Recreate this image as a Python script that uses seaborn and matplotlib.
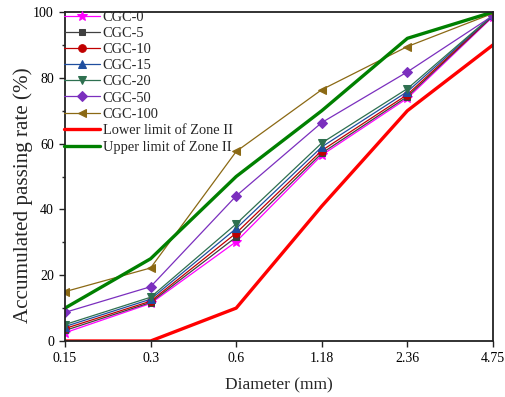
import matplotlib
matplotlib.use("Agg")
import matplotlib.pyplot as plt
import seaborn as sns
import pandas as pd
from matplotlib.ticker import MultipleLocator

sizes = ["0.15", "0.3", "0.6", "1.18", "2.36", "4.75"]
cgc_0 = [2.5, 11.4, 30.2, 56.5, 73.8, 98.6]
cgc_5 = [3.2, 11.7, 31.6, 57.1, 74.3, 98.8]
cgc_10 = [3.8, 12.1, 32.8, 57.9, 74.9, 98.9]
cgc_15 = [4.4, 12.7, 34.2, 59.0, 75.8, 99.0]
cgc_20 = [5.0, 13.3, 35.6, 60.2, 76.7, 99.1]
cgc_50 = [8.7, 16.5, 44.1, 66.4, 81.8, 98.9]
cgc_100 = [15.0, 22.2, 57.6, 76.4, 89.5, 99.6]
lower_zone2 = [0, 0, 10, 41, 70, 90]
upper_zone2 = [10, 25, 50, 70, 92, 100]

series = [
    ("CGC-0", cgc_0, "#FF00FF", "*", 7.5),
    ("CGC-5", cgc_5, "#404040", "s", 5),
    ("CGC-10", cgc_10, "#C00000", "o", 5.5),
    ("CGC-15", cgc_15, "#1F4E9F", "^", 6),
    ("CGC-20", cgc_20, "#2E7050", "v", 6),
    ("CGC-50", cgc_50, "#7B2FBE", "D", 5),
    ("CGC-100", cgc_100, "#8B6914", "<", 6),
]

sns.set_theme(style="ticks")
plt.rcParams["font.family"] = ["Liberation Serif", "DejaVu Serif"]

fig = plt.figure(figsize=(5.05, 3.97), dpi=100)
ax = fig.add_axes([65/505, 56/397, 428/505, 329/397])

for name, vals, col, mk, ms in series:
    df = pd.DataFrame({"d": sizes, "v": vals})
    sns.lineplot(data=df, x="d", y="v", ax=ax, color=col, marker=mk,
                 markersize=ms, markeredgecolor=col, linewidth=0.9, label=name,
                 sort=False)

df = pd.DataFrame({"d": sizes, "v": lower_zone2})
sns.lineplot(data=df, x="d", y="v", ax=ax, color="#FF0000", linewidth=2.4,
             label="Lower limit of Zone II", sort=False)
df = pd.DataFrame({"d": sizes, "v": upper_zone2})
sns.lineplot(data=df, x="d", y="v", ax=ax, color="#008000", linewidth=2.4,
             label="Upper limit of Zone II", sort=False)

ax.set_xlim(0, 5)
ax.set_ylim(0, 100)
ax.yaxis.set_major_locator(MultipleLocator(20))
ax.yaxis.set_minor_locator(MultipleLocator(10))
ax.tick_params(axis="both", direction="out", labelsize=10, length=4.5, width=1,
               colors="#222222", labelcolor="black", pad=3.5)
ax.tick_params(axis="y", which="minor", direction="out", length=2.5, width=1)
for s in ax.spines.values():
    s.set_linewidth(1.3)
    s.set_color("#222222")

ax.set_xlabel("Diameter (mm)", fontsize=12.5, va="center")
ax.set_ylabel("Accumulated passing rate (%)", fontsize=15.2, va="center")
ax.xaxis.set_label_coords(0.5, -44/329)
ax.yaxis.set_label_coords(-42/428, 0.442)

leg = ax.legend(loc="upper left", frameon=False, fontsize=10.4,
                bbox_to_anchor=(-0.003, 1.004), handlelength=2.5,
                handletextpad=0.2, labelspacing=0.21, borderaxespad=0,
                borderpad=0)

fig.savefig("out.png", dpi=100)
